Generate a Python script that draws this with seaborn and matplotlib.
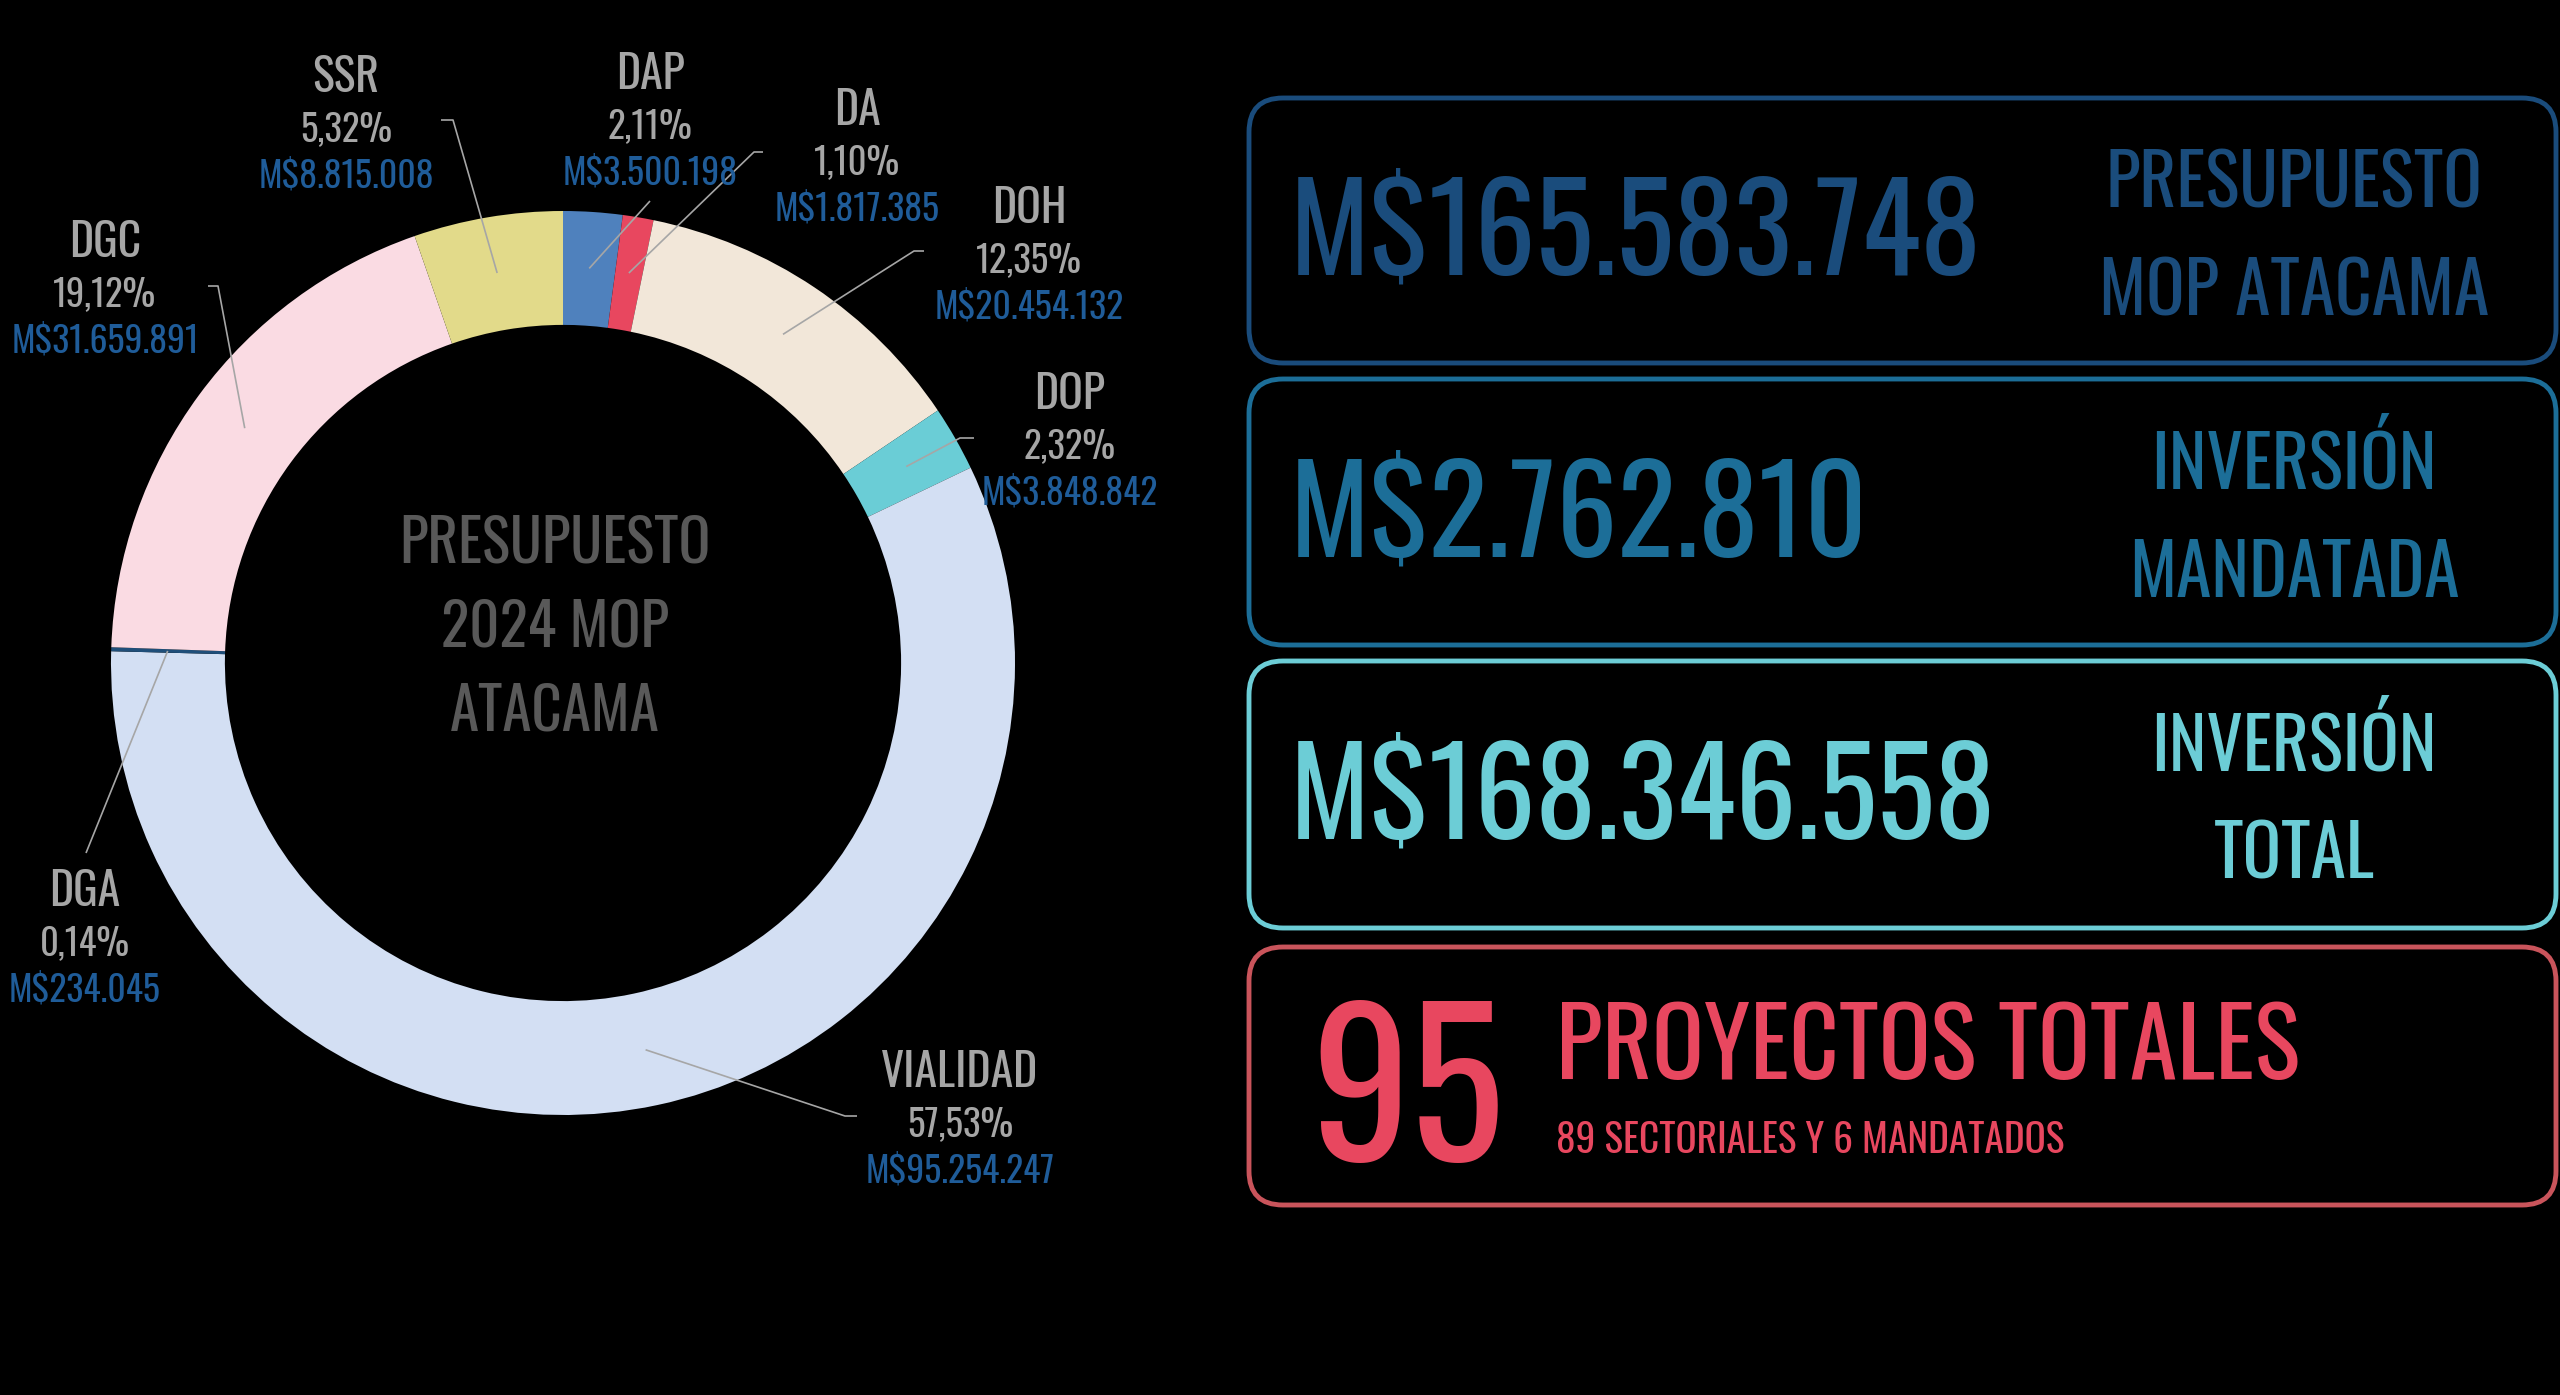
import matplotlib
matplotlib.use("Agg")
import matplotlib.pyplot as plt
import numpy as np
import seaborn as sns
from matplotlib.font_manager import FontProperties
from matplotlib.patches import FancyBboxPatch
from matplotlib.textpath import TextPath

# --- data -----------------------------------------------------------------
sectors = ["DAP", "DA", "DOH", "DOP", "VIALIDAD", "DGA", "DGC", "SSR"]
amounts = [3500198, 1817385, 20454132, 3848842, 95254247, 234045, 31659891, 8815008]
shares = ["2,11%", "1,10%", "12,35%", "2,32%", "57,53%", "0,14%", "19,12%", "5,32%"]
sector_colors = ["#4F81BD", "#E8475F", "#F2E7D9", "#6ACDD6",
                 "#D3DFF3", "#1F4E79", "#FADBE3", "#E2DA8A"]

center_title = ["PRESUPUESTO", "2024 MOP", "ATACAMA"]
summary_values = ["M$165.583.748", "M$2.762.810", "M$168.346.558"]
summary_titles = [["PRESUPUESTO", "MOP ATACAMA"],
                  ["INVERSIÓN", "MANDATADA"],
                  ["INVERSIÓN", "TOTAL"]]
summary_colors = ["#1A4C7C", "#1C6E98", "#6CCDD6"]
project_total = 95
project_title = "PROYECTOS TOTALES"
project_detail = "89 SECTORIALES Y 6 MANDATADOS"
project_color = "#E8475F"
project_edge = "#C9545B"

# --- layout (pixels, y down) ----------------------------------------------
W, H = 2560, 1395
DPI = 100
CX, CY, R = 563, 663, 452
RING = 0.252

label_xy = {
    "DAP": (650, 70), "DA": (857, 106), "DOH": (1029, 204), "DOP": (1070, 390),
    "VIALIDAD": (960, 1068), "DGA": (85, 887), "DGC": (105, 238), "SSR": (346, 73),
}
leader_tail = {
    "DAP": [(650, 201)],
    "DA": [(754, 152), (763, 152)],
    "DOH": [(914, 251), (924, 251)],
    "DOP": [(960, 438), (974, 438)],
    "VIALIDAD": [(845, 1116), (857, 1116)],
    "DGA": [(86, 853)],
    "DGC": [(218, 286), (208, 286)],
    "SSR": [(453, 120), (441, 120)],
}
boxes_y = [(98, 363), (379, 645), (661, 928), (947, 1205)]
BOX_X0, BOX_X1 = 1249, 2556

GRAY = "#A6A6A6"
VALUE_BLUE = "#1F5C99"
FONT = ["Oswald", "Pathway Gothic One", "DejaVu Sans"]
FP = FontProperties(family=FONT)


def money(v):
    return "M$" + f"{v:,}".replace(",", ".")


def ink_width(s, size):
    return TextPath((0, 0), s, size=size, prop=FP).get_extents().width * DPI / 72


def fit(s, target_px):
    # font size (pt) whose inked width equals target_px
    return 100 * target_px / ink_width(s, 100)


CAP = TextPath((0, 0), "H", size=100, prop=FP).get_extents().height / 100


sns.set_theme(style="dark", rc={"figure.facecolor": "black",
                                "axes.facecolor": "black",
                                "savefig.facecolor": "black"})
plt.rcParams["font.family"] = FONT

fig = plt.figure(figsize=(W / DPI, H / DPI), dpi=DPI)

# donut
ax_pie = fig.add_axes([(CX - R) / W, (H - CY - R) / H, 2 * R / W, 2 * R / H])
ax_pie.pie(amounts, colors=sns.color_palette(sector_colors), startangle=90,
           counterclock=False, radius=1,
           wedgeprops=dict(width=RING, linewidth=0))
ax_pie.set_xlim(-1, 1)
ax_pie.set_ylim(-1, 1)
ax_pie.axis("off")

# overlay in pixel coordinates
ax = fig.add_axes([0, 0, 1, 1])
ax.set_xlim(0, W)
ax.set_ylim(H, 0)
ax.axis("off")
ax.patch.set_alpha(0)


def text_c(x, y, s, size, color, ha="center"):
    # y is the visual centre of the capital letters
    ax.text(x, y + 0.5 * CAP * size * DPI / 72, s, fontsize=size,
            color=color, ha=ha, va="baseline")


s_center = fit(center_title[0], 305)
for i, line in enumerate(center_title):
    text_c(555, 539 + 84 * i, line, s_center, "#595959")

# labels and leader lines
s_name = fit("VIALIDAD", 154)
s_share = fit("57,53%", 103)
s_value = fit("M$20.454.132", 186)
total = sum(amounts)
cum = np.cumsum([0] + amounts[:-1])
for name, amt, share, c0 in zip(sectors, amounts, shares, cum):
    theta = np.deg2rad((c0 + amt / 2) / total * 360)
    sx = CX + 0.875 * R * np.sin(theta)
    sy = CY - 0.875 * R * np.cos(theta)
    pts = [(sx, sy)] + leader_tail[name]
    ax.plot([p[0] for p in pts], [p[1] for p in pts], color=GRAY, lw=1.2,
            solid_capstyle="butt")
    lx, ly = label_xy[name]
    text_c(lx, ly, name, s_name, GRAY)
    text_c(lx, ly + 53, share, s_share, GRAY)
    text_c(lx, ly + 100, money(amt), s_value, VALUE_BLUE)

# summary boxes
edge_colors = summary_colors + [project_edge]
for (y0, y1), ec in zip(boxes_y, edge_colors):
    ax.add_patch(FancyBboxPatch((BOX_X0, y0), BOX_X1 - BOX_X0, y1 - y0,
                                boxstyle="round,pad=0,rounding_size=34",
                                fc="none", ec=ec, lw=3.5))

s_big = fit(summary_values[0], 678)
s_title = fit("MOP ATACAMA", 385)
for (y0, y1), val, titles, col in zip(boxes_y, summary_values,
                                      summary_titles, summary_colors):
    text_c(1290, (y0 + y1) / 2 - 5, val, s_big, col, ha="left")
    text_c(2294, y0 + 81, titles[0], s_title, col)
    text_c(2294, y0 + 189, titles[1], s_title, col)

text_c(1311, 1081, str(project_total), fit(str(project_total), 178),
       project_color, ha="left")
text_c(1556, 1040, project_title, fit(project_title, 735), project_color, ha="left")
text_c(1556, 1137, project_detail, fit(project_detail, 505), project_color, ha="left")

fig.savefig("out.png", dpi=DPI, facecolor="black")
